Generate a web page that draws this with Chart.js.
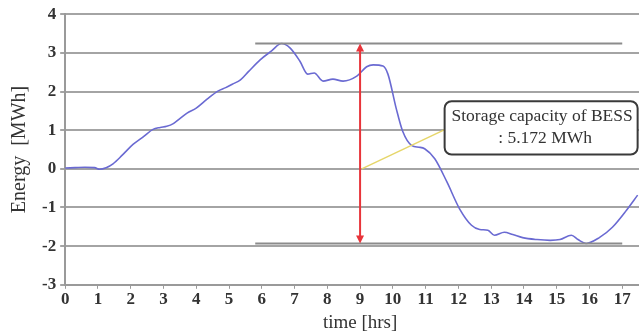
<!DOCTYPE html>
<html>
<head>
<meta charset="utf-8">
<script src="https://cdn.jsdelivr.net/npm/chart.js@4.4.1/dist/chart.umd.min.js"></script>
<style>
  html, body { margin: 0; padding: 0; background: #fff; overflow: hidden; }
  #wrap { width: 656px; height: 334px; }
</style>
</head>
<body>
<div id="wrap"><canvas id="energyChart" width="656" height="334"></canvas></div>
<script>
// Stored energy over the day
const hours = [0, 0.3, 0.6, 0.9, 1.05, 1.25, 1.46, 1.75, 2.07, 2.4, 2.68, 2.9, 3.1, 3.3, 3.5,
    3.72, 4.0, 4.33, 4.66, 4.9, 5.1, 5.35, 5.6, 5.95, 6.3, 6.6, 6.86, 7.16, 7.4, 7.6, 7.87,
    8.17, 8.48, 8.9, 9.2, 9.4, 9.7, 9.85, 10.1, 10.3, 10.58, 10.8, 10.97, 11.28, 11.65, 12.04,
    12.4, 12.65, 12.9, 13.1, 13.4, 13.66, 13.96, 14.4, 14.8, 15.1, 15.45, 15.65, 15.9, 16.3,
    16.7, 17.13, 17.47];
const energy = [0.02, 0.03, 0.04, 0.03, -0.01, 0.03, 0.13, 0.36, 0.63, 0.84, 1.02, 1.07, 1.10, 1.17, 1.30,
    1.44, 1.57, 1.80, 2.01, 2.10, 2.19, 2.30, 2.52, 2.82, 3.05, 3.242, 3.13, 2.79, 2.45, 2.48, 2.27,
    2.32, 2.27, 2.40, 2.64, 2.69, 2.66, 2.45, 1.57, 0.97, 0.60, 0.56, 0.52, 0.26, -0.34, -1.04,
    -1.46, -1.57, -1.59, -1.72, -1.64, -1.70, -1.78, -1.83, -1.85, -1.83, -1.72, -1.83, -1.930, -1.78,
    -1.51, -1.07, -0.68];

const xTickLabels = ['0', '1', '2', '3', '4', '5', '6', '7', '8', '9', '10', '11', '12', '13', '14', '15', '16', '17'];
const yTickLabels = ['-3', '-2', '-1', '0', '1', '2', '3', '4'];

// BESS capacity: max and min of the stored energy
const capacityTop = 3.242;
const capacityBottom = -1.930;
const capacityText = ['Storage capacity of BESS', ': 5.172 MWh'];

const serif = '"Liberation Serif", "DejaVu Serif", serif';

// Draws the capacity lines, double arrow, leader line and text box
const capacityPlugin = {
    id: 'capacity',
    afterDatasetsDraw(chart) {
        const { ctx, scales: { x, y } } = chart;
        ctx.save();

        // grey max / min lines
        ctx.strokeStyle = '#8c8c8c';
        ctx.lineWidth = 2;
        [capacityTop, capacityBottom].forEach(v => {
            ctx.beginPath();
            ctx.moveTo(x.getPixelForValue(5.8), y.getPixelForValue(v));
            ctx.lineTo(x.getPixelForValue(17), y.getPixelForValue(v));
            ctx.stroke();
        });

        // red double-headed arrow at 9 h
        const ax = x.getPixelForValue(9);
        const ay1 = y.getPixelForValue(capacityTop);
        const ay2 = y.getPixelForValue(capacityBottom);
        ctx.strokeStyle = '#e8343a';
        ctx.fillStyle = '#e8343a';
        ctx.lineWidth = 2;
        ctx.beginPath();
        ctx.moveTo(ax, ay1 + 6);
        ctx.lineTo(ax, ay2 - 6);
        ctx.stroke();
        ctx.beginPath();
        ctx.moveTo(ax, ay1); ctx.lineTo(ax - 4, ay1 + 8); ctx.lineTo(ax + 4, ay1 + 8);
        ctx.closePath(); ctx.fill();
        ctx.beginPath();
        ctx.moveTo(ax, ay2); ctx.lineTo(ax - 4, ay2 - 8); ctx.lineTo(ax + 4, ay2 - 8);
        ctx.closePath(); ctx.fill();

        // yellow leader line to the text box
        ctx.strokeStyle = '#e6d66a';
        ctx.lineWidth = 1.5;
        ctx.beginPath();
        ctx.moveTo(x.getPixelForValue(9.05), y.getPixelForValue(0));
        ctx.lineTo(x.getPixelForValue(11.6), y.getPixelForValue(1.02));
        ctx.stroke();

        // rounded text box
        const bx = x.getPixelForValue(11.58);
        const by = y.getPixelForValue(1.75);
        const bw = x.getPixelForValue(17.47) - bx;
        const bh = y.getPixelForValue(0.37) - by;
        ctx.fillStyle = '#ffffff';
        ctx.strokeStyle = '#3a3a3a';
        ctx.lineWidth = 2;
        ctx.beginPath();
        ctx.roundRect(bx, by, bw, bh, 7);
        ctx.fill();
        ctx.stroke();

        ctx.fillStyle = '#333';
        ctx.font = '17.5px ' + serif;
        ctx.textAlign = 'center';
        ctx.textBaseline = 'middle';
        ctx.fillText(capacityText[0], bx + bw / 2 + 1, by + 15);
        ctx.fillText(capacityText[1], bx + bw / 2 + 4, by + 37);
        ctx.restore();
    }
};

const chart = new Chart(document.getElementById('energyChart'), {
    type: 'line',
    data: {
        datasets: [{
            data: hours.map((h, i) => ({ x: h, y: energy[i] })),
            borderColor: '#6a6ad2',
            borderWidth: 1.6,
            pointRadius: 0,
            cubicInterpolationMode: 'monotone',
            fill: false
        }]
    },
    options: {
        responsive: false,
        animation: false,
        layout: { padding: { top: 9, right: 0, left: 8, bottom: 0 } },
        plugins: {
            legend: { display: false },
            tooltip: { enabled: false }
        },
        scales: {
            x: {
                type: 'linear',
                min: 0,
                max: 18,
                ticks: {
                    stepSize: 1,
                    autoSkip: false,
                    maxRotation: 0,
                    padding: 1,
                    color: '#333',
                    font: { family: serif, size: 17, weight: 'bold' },
                    callback: v => xTickLabels.includes(String(v)) ? String(v) : ''
                },
                grid: { display: true, drawOnChartArea: false, color: '#9a9a9a', tickLength: 4 },
                border: { color: '#9a9a9a', width: 2 },
                title: {
                    display: true,
                    text: 'time [hrs]',
                    color: '#333',
                    font: { family: serif, size: 19 },
                    padding: { top: 0, bottom: 0 }
                }
            },
            y: {
                min: -3,
                max: 4,
                ticks: {
                    stepSize: 1,
                    padding: 4,
                    color: '#333',
                    font: { family: serif, size: 17, weight: 'bold' },
                    callback: v => yTickLabels.includes(String(v)) ? String(v) : ''
                },
                grid: { color: '#a4a4a4', lineWidth: 2, tickLength: 5 },
                border: { color: '#9a9a9a', width: 2 },
                title: {
                    display: true,
                    text: 'Energy  [MWh]',
                    color: '#333',
                    font: { family: serif, size: 20 },
                    padding: { top: 0, bottom: 6 }
                }
            }
        }
    },
    plugins: [capacityPlugin]
});
</script>
</body>
</html>
